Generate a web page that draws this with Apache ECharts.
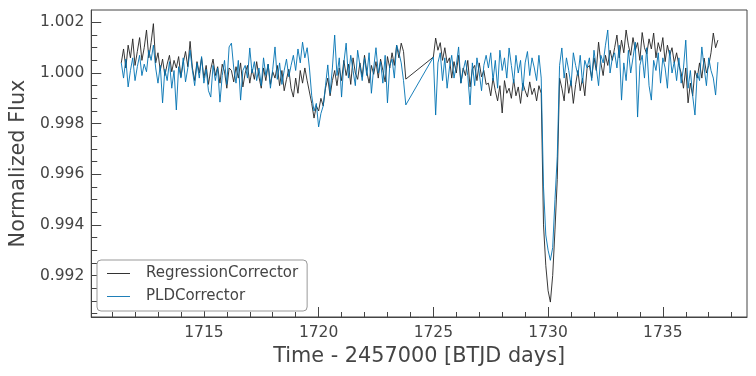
<!DOCTYPE html>
<html>
<head>
<meta charset="utf-8">
<script src="https://cdn.jsdelivr.net/npm/echarts@6/dist/echarts.min.js"></script>
<style>
  html, body { margin: 0; padding: 0; background: #fff; }
  #chart { width: 756px; height: 376px; }
</style>
</head>
<body>
<div id="chart"></div>
<script>
// light curve values, as flux offsets in units of 1e-5 (flux = 1 + v * 1e-5)
var FLUX_UNIT = 1e-5;
var cadence = 0.1; // days between samples
var seg1Start = 1711.4; // first orbit
var seg2Start = 1725.0; // second orbit

var regSeg1 = [40, 95, 20, 110, 60, 135, 30, 85, 140, 50, 100, 170, 60, 120,
  195,
  40, 80, 10, 55, -10, 35, 70, 5, 50, 20, 65, -15, 40, 85, 25, 125,
  20, -30, 45, 0, 60, -20, 30, -45, 15, 55, -10, 25, -40, 35, 5, -60, 20,
  10, -35, 25, -20, 40, -55, 0, 30, -40, 15, -25, 45, -15, -60, 20, -30, 35, -45, 5, -20, 30, -50, 10, -70, -25, 15,
  -60, -95, -20, -80, 10, -40, 20, -30, -75,
  -120, -178, -130, -150, -100, -130,
  -60, -20, -90, -30, 10, -50,
  20, -30, 50, -10, 35, -45, 60, 0, -25, 40, -15, 70, 5, -40, 30, -5,
  45, -20, 55, 10, -35, 65, 20, 80, 30,
  110, 60, 118, 85, -24];
var regSeg2 = [63, 138,
  90, 120, 50, 100, 40,
  60, -20, 45, 0, 70, -40, 20, -10, 50, -55, 15, 30, -30, 40, -15, 10, -45,
  -40, -90, -20, -70, -110, -50, -158, -30, -80, -60, -100, -25, -90, -55, -120, -40, -70, -95, -35, -85, -60, -110, -50,
  -80, -600, -760, -860, -905, -800, -620, -420, -20,
  -60, -110, 0, -80, -30, -120, -45, 10, -70, -20, -90, 20,
  30, -20, 60, 10, 122, 40, -10, 70, 30, 90, 50,
  100, 150, 60, 130, 80, 170, 110, 70, 140, 90, 120, 50, 160, 100, 75, 135, 95, 158, 60, 120, 85, 140, 45, 110, 70, 100, 40, 80, 30,
  0, -60, 20, -118, -40, -90, 10, -20,
  40, -20, 59, 0, 30, 80,
  158, 100, 130];

var pldSeg1 = [40, -20, 55, -55, 10, 60, -30, 25, 70, -10, 35, 5, 90, 50,
  110, 20, -40, 30, -118, 15, -30, 45, -60, 10, -146, 25, -20, 60, -35, 20, 90,
  10, -50, 40, -20, 65, -40, 15, -70, -95, 30, -30, 20, -115, -10, 50, -45, 103,
  118, 20, -40, 50, -107, 10, 30, -20, 99, 0, 45, -30, 20, -50, 60, -10, 35, -60, 15, 103, -25, 40, -45, 10, 55, -15,
  30, 70, 10, 95, 40, 122, 60, 100, 20,
  -90, -150, -120, -213, -160, -130,
  -50, 32, -80, 20, 150, -10,
  60, -95, 40, 118, -20, 70, 10, -50, 90, 30, -30, 60, -10, 80, -80, 20,
  100, 0, 45, -40, 70, -118, 30, 55, -20,
  110, 80, 40, -30, -126];
var pldSeg2 = [63, -166,
  40, 80, -30, 60, -60, 20, 70, -20, 30, 103, -40, 10, 50, -10, -126, 40, -50, 60, 0, -70, 30, 70,
  20, 80, -30, 50, -60, 90, 10, 60, -20, 99, 30, -40, 70, 0, 50, -70, 40, 85, -10, 60, 20, -30, 70,
  -20, -450, -640, -700, -740, -690, -500, -330, 30,
  99, -20, 60, 10, -50, 80, 30, -10, 70, -40, 50, 20,
  60, -30, 90, 20, -50, 70, 40, 110, 170, 0, 60,
  80, 20, 110, -107, 40, -30, 90, 0, 60, 122, -174, 30, 70, -20, 100, -50, -107, 50, 10, 80, -40, 60, 20, -60, 90, 0, 45, -30, 60,
  -40, 20, 130, -60, 10, -90, -166, 0,
  -30, 103, 20, -50, 60, 10,
  -20, -87, 43];

var xMajor = [1715, 1720, 1725, 1730, 1735];
var xMinor = [1711, 1712, 1713, 1714, 1716, 1717, 1718, 1719, 1721, 1722, 1723, 1724, 1726, 1727, 1728, 1729,
  1731, 1732, 1733, 1734, 1736, 1737, 1738];
var yMajor = [0.992, 0.994, 0.996, 0.998, 1.000, 1.002];
var yMinor = [0.9905, 0.9915, 0.9925, 0.9935, 0.9945, 0.9955, 0.9965, 0.9975, 0.9985, 0.9995, 1.0005, 1.0015,
  0.991, 0.993, 0.995, 0.997, 0.999, 1.001];

function toPoints(seg, start) {
  return seg.map(function (v, i) {
    return [+(start + i * cadence).toFixed(3), 1 + v * FLUX_UNIT];
  });
}

var regData = toPoints(regSeg1, seg1Start).concat(toPoints(regSeg2, seg2Start));
var pldData = toPoints(pldSeg1, seg1Start).concat(toPoints(pldSeg2, seg2Start));

var axisColor = '#444';
var textColor = '#444';
var font = 'DejaVu Sans';

var myChart = echarts.init(document.getElementById('chart'));
var option = {
  animation: false,
  backgroundColor: '#fff',
  grid: {
    left: 89,
    right: 9,
    top: 10,
    bottom: 59,
    show: true,
    borderColor: axisColor,
    borderWidth: 1
  },
  legend: {
    orient: 'vertical',
    left: 97,
    top: 260,
    padding: [6, 9, 7, 10],
    itemGap: 8,
    itemWidth: 23,
    itemHeight: 1,
    icon: 'rect',
    borderColor: '#999',
    borderWidth: 1,
    borderRadius: 4,
    backgroundColor: '#fff',
    textStyle: {
      color: textColor,
      fontFamily: font,
      fontSize: 15,
      padding: [0, 0, 0, 11]
    },
    data: ['RegressionCorrector', 'PLDCorrector']
  },
  xAxis: [
    {
      type: 'value',
      min: 1710.093,
      max: 1738.668,
      position: 'bottom',
      name: 'Time - 2457000 [BTJD days]',
      nameLocation: 'middle',
      nameGap: 28,
      nameTextStyle: { color: textColor, fontFamily: font, fontSize: 20.8 },
      axisLine: { show: true, lineStyle: { color: axisColor, width: 1 } },
      axisTick: { show: true, inside: true, length: 10, lineStyle: { color: axisColor, width: 1 }, customValues: xMajor },
      axisLabel: {
        show: true, color: textColor, fontFamily: font, fontSize: 15.5, margin: 8, customValues: xMajor,
        formatter: function (v) { return String(v); }
      },
      splitLine: { show: false }
    },
    {
      type: 'value',
      min: 1710.093,
      max: 1738.668,
      position: 'bottom',
      axisLine: { show: false },
      axisTick: { show: true, inside: true, length: 5, lineStyle: { color: axisColor, width: 1 }, customValues: xMinor },
      axisLabel: { show: false },
      splitLine: { show: false }
    }
  ],
  yAxis: [
    {
      type: 'value',
      min: 0.99036,
      max: 1.00249,
      position: 'left',
      name: 'Normalized Flux',
      nameLocation: 'middle',
      nameGap: 57,
      nameTextStyle: { color: textColor, fontFamily: font, fontSize: 20.8 },
      axisLine: { show: true, lineStyle: { color: axisColor, width: 1 } },
      axisTick: { show: true, inside: true, length: 10, lineStyle: { color: axisColor, width: 1 }, customValues: yMajor },
      axisLabel: {
        show: true, color: textColor, fontFamily: font, fontSize: 15.5, margin: 7, customValues: yMajor,
        formatter: function (v) { return v.toFixed(3); }
      },
      splitLine: { show: false }
    },
    {
      type: 'value',
      min: 0.99036,
      max: 1.00249,
      position: 'left',
      axisLine: { show: false },
      axisTick: { show: true, inside: true, length: 6, lineStyle: { color: axisColor, width: 1 }, customValues: yMinor },
      axisLabel: { show: false },
      splitLine: { show: false }
    }
  ],
  series: [
    {
      name: 'RegressionCorrector',
      type: 'line',
      data: regData,
      showSymbol: false,
      symbol: 'none',
      color: '#333',
      lineStyle: { color: '#222', width: 0.9 },
      z: 2
    },
    {
      name: 'PLDCorrector',
      type: 'line',
      data: pldData,
      showSymbol: false,
      symbol: 'none',
      color: '#1f7fb8',
      lineStyle: { color: '#0072b2', width: 0.9 },
      z: 3
    }
  ]
};
myChart.setOption(option);
window.addEventListener('resize', function () {
  myChart.resize();
});
</script>
</body>
</html>
